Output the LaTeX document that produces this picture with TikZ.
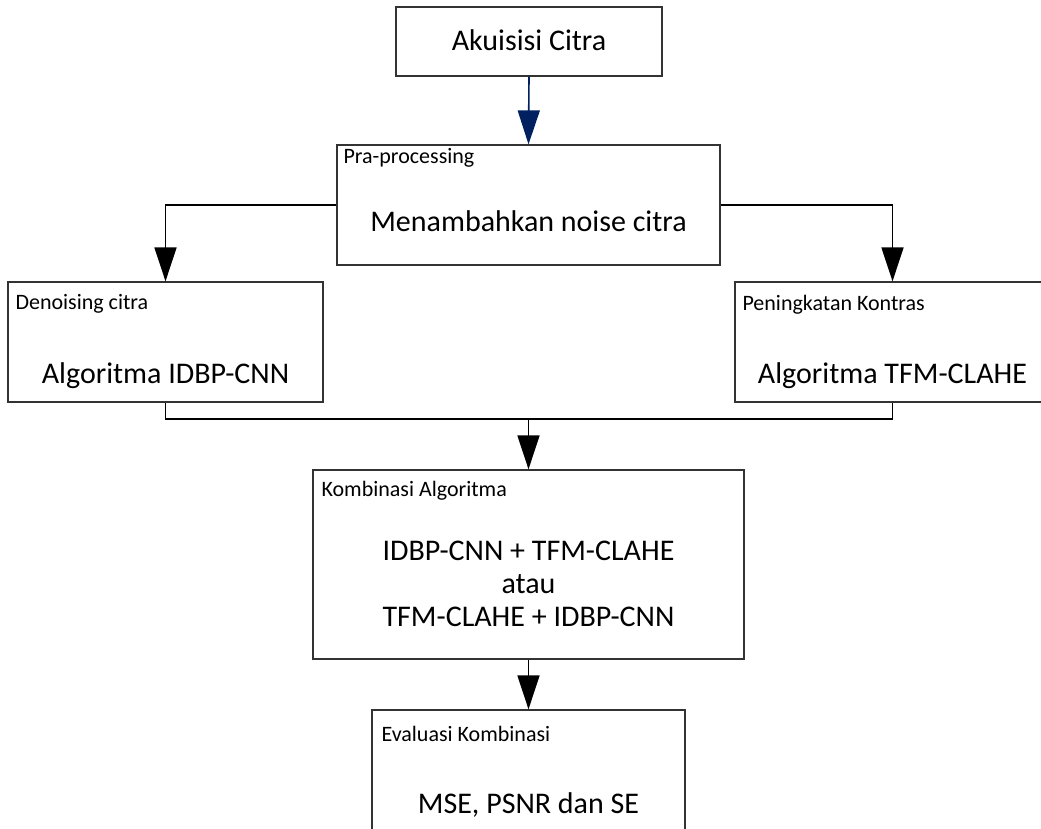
\documentclass[tikz,border=0pt]{standalone}
\usepackage{fontspec}
\setmainfont{Carlito}
\usetikzlibrary{arrows.meta}
\definecolor{navyline}{RGB}{0,32,96}
\tikzset{
  box/.style={draw=black!80, line width=1.3pt, rectangle, inner sep=0pt},
  lbl/.style={anchor=base west, inner sep=0pt, font=\fontsize{22}{26}\selectfont},
  big/.style={anchor=base, inner sep=0pt, font=\fontsize{30}{36}\selectfont},
  wire/.style={line width=1.6pt},
  flow/.style={wire, -{Triangle[length=34pt,width=22pt]}},
  flowblue/.style={flow, draw=navyline, fill=navyline},
}
\begin{document}
\begin{tikzpicture}
[x=1pt,y=-1pt]
\clip (0,0) rectangle (1041,828);
\node[box, minimum width=266pt, minimum height=69pt] (akuisisi) at (529,41.5) {};
\node[box, minimum width=383pt, minimum height=120pt] (pra) at (528.5,205) {};
\node[box, minimum width=315pt, minimum height=120pt] (denoising) at (165.5,342) {};
\node[box, minimum width=315pt, minimum height=120pt] (peningkatan) at (892.5,342) {};
\node[box, minimum width=431pt, minimum height=189pt] (kombinasi) at (528.5,564.5) {};
\node[box, minimum width=313pt, minimum height=140pt] (evaluasi) at (528.5,780) {};
\node[big] (akuisisiTxt) at (529,50) {Akuisisi Citra};
\node[lbl] (praLbl) at ([shift={(7,19)}]pra.north west) {Pra-processing};
\node[big] (praTxt) at (528.5,231) {Menambahkan noise citra};
\node[lbl] (denoisingLbl) at ([shift={(8,28)}]denoising.north west) {Denoising citra};
\node[big] (denoisingTxt) at (165.5,383) {Algoritma IDBP-CNN};
\node[lbl] (peningkatanLbl) at ([shift={(8,29)}]peningkatan.north west) {Peningkatan Kontras};
\node[big] (peningkatanTxt) at (892.5,383) {Algoritma TFM-CLAHE};
\node[lbl] (kombinasiLbl) at ([shift={(9,27)}]kombinasi.north west) {Kombinasi Algoritma};
\node[big] (kombinasiTxtA) at (528.5,560) {IDBP-CNN + TFM-CLAHE};
\node[big] (kombinasiTxtB) at (528.5,593) {atau};
\node[big] (kombinasiTxtC) at (528.5,626) {TFM-CLAHE + IDBP-CNN};
\node[lbl] (evaluasiLbl) at ([shift={(10,32)}]evaluasi.north west) {Evaluasi Kombinasi};
\node[big] (evaluasiTxt) at (528.5,813) {MSE, PSNR dan SE};
\coordinate (merge) at (528.5,419);
\draw[flowblue] (akuisisi.south) -- (pra.north);
\draw[flow] (pra.west) -| (denoising.north);
\draw[flow] (pra.east) -| (peningkatan.north);
\draw[wire] (denoising.south) |- (merge) -| (peningkatan.south);
\draw[flow] (merge) -- (kombinasi.north);
\draw[flow] (kombinasi.south) -- (evaluasi.north);
\end{tikzpicture}
\end{document}
